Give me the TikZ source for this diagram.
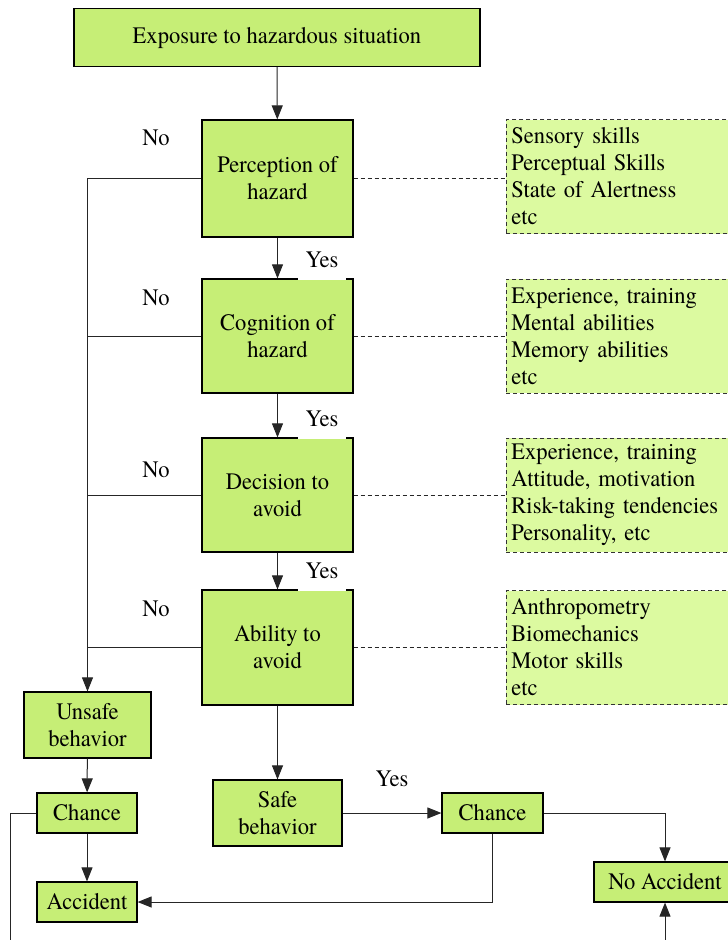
\documentclass[tikz,border=0pt]{standalone}
\usepackage{fontspec}
\setmainfont{texgyretermes-regular.otf}[FakeStretch=0.955]
\usetikzlibrary{arrows.meta}
\definecolor{boxgreen}{HTML}{C6EE76}
\definecolor{notegreen}{HTML}{DCFAA0}
\begin{document}
\begin{tikzpicture}[x=1pt,y=-1pt,
  font=\fontsize{23.6}{27}\selectfont,
  stage/.style={draw=black, line width=1.2pt, fill=boxgreen, align=center, inner sep=0pt},
  note/.style={draw=black!80, dash pattern=on 4pt off 3pt, line width=0.9pt, fill=notegreen,
    align=left, anchor=west, text width=260pt, inner xsep=5pt, inner ysep=0pt, minimum height=114pt},
  link/.style={line width=1pt, draw=black!85},
  flow/.style={link, -{Triangle[length=14pt,width=11pt]}},
  hint/.style={link, line width=0.9pt, dash pattern=on 4pt off 3pt},
  tag/.style={inner sep=0pt},
  yestag/.style={fill=white, anchor=south, inner xsep=8pt, inner ysep=0pt, text depth=12pt}
]
\useasboundingbox (0,0) rectangle (728,940);
\clip (0,0) rectangle (728,940);
\fill[white] (0,0) rectangle (728,940);

% main chain of stages
\node[stage, minimum width=406pt, minimum height=58pt] (expo) at (277,37.5) {Exposure to hazardous situation};
\node[stage, minimum width=151pt, minimum height=117pt] (perc) at (277.5,178.5) {Perception of\\hazard};
\node[stage, minimum width=151pt, minimum height=114pt] (cogn) at (277.5,336) {Cognition of\\hazard};
\node[stage, minimum width=151pt, minimum height=114pt] (deci) at (277.5,495) {Decision to\\avoid};
\node[stage, minimum width=151pt, minimum height=115pt] (abil) at (277.5,647.5) {Ability to\\avoid};

% outcomes
\node[stage, minimum width=127pt, minimum height=66pt] (unsafe) at (87.5,725) {Unsafe\\behavior};
\node[stage, minimum width=100pt, minimum height=40pt] (chA) at (87,813) {Chance};
\node[stage, minimum width=100pt, minimum height=40pt] (acc) at (87,902) {Accident};
\node[stage, minimum width=129pt, minimum height=66pt] (safe) at (277.5,813) {Safe\\behavior};
\node[stage, minimum width=101pt, minimum height=40pt] (chB) at (492.5,813) {Chance};
\node[stage, minimum width=142pt, minimum height=40pt] (noacc) at (665,882) {No Accident};

% contributing factors
\node[note] (n1) at (506,176.5) {Sensory skills\\Perceptual Skills\\State of Alertness\\etc};
\node[note] (n2) at (506,336) {Experience, training\\Mental abilities\\Memory abilities\\etc};
\node[note] (n3) at (506,495) {Experience, training\\Attitude, motivation\\Risk-taking tendencies\\Personality, etc};
\node[note] (n4) at (506,647.5) {Anthropometry\\Biomechanics\\Motor skills\\etc};

\draw[hint] (perc.east) -- (perc.east -| n1.west);
\draw[hint] (cogn.east) -- (cogn.east -| n2.west);
\draw[hint] (deci.east) -- (deci.east -| n3.west);
\draw[hint] (abil.east) -- (abil.east -| n4.west);

% yes path
\draw[flow] (expo) -- (perc);
\draw[flow] (perc) -- (cogn);
\draw[flow] (cogn) -- (deci);
\draw[flow] (deci) -- (abil);
\draw[flow] (abil) -- (safe);
\draw[flow] (safe) -- (chB);

% no path
\draw[flow] (perc.west) -| (unsafe.north);
\draw[link] (cogn.west) -- (cogn.west -| unsafe.north);
\draw[link] (deci.west) -- (deci.west -| unsafe.north);
\draw[link] (abil.west) -- (abil.west -| unsafe.north);
\draw[flow] (unsafe) -- (chA);
\draw[flow] (chA) -- (acc);

% chance outcomes
\coordinate (downA) at (10,950);
\coordinate (upB) at (665,950);
\draw[link] (chA.west) -| (downA);
\draw[flow] (chB.east) -| (noacc.north);
\draw[flow] (chB.south) |- (acc.east);
\draw[flow] (upB) -- (noacc.south);

% branch labels
\node[tag] (no1) at (156,138) {No};
\node[tag] (no2) at (156,298) {No};
\node[tag] (no3) at (156,470) {No};
\node[tag] (no4) at (156,609) {No};
\node[yestag] (yes1) at (322,279.7) {Yes};
\node[yestag] (yes2) at (322,438.7) {Yes};
\node[yestag] (yes3) at (322,590.7) {Yes};
\node[yestag] (yes4) at (392,799) {Yes};
\end{tikzpicture}
\end{document}
